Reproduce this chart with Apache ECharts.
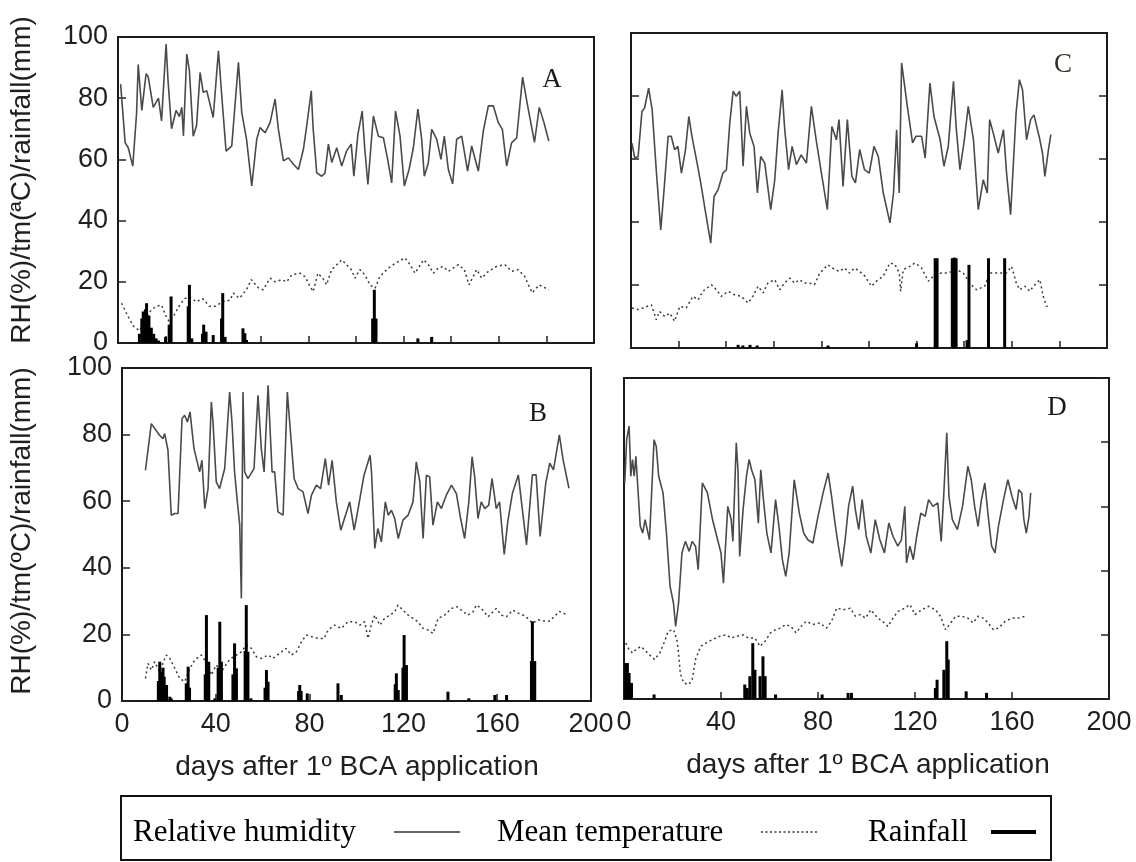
<!DOCTYPE html>
<html>
<head>
<meta charset="utf-8">
<script src="https://cdn.jsdelivr.net/npm/echarts@6/dist/echarts.min.js"></script>
<style>html,body{margin:0;padding:0;background:#fff;}#c{width:1136px;height:862px;}</style>
</head>
<body>
<div id="c"></div>
<script>
// ---------- DATA (day after 1st BCA application, value) ----------
const xTicks = [0, 40, 80, 120, 160, 200];
const yTicks = [0, 20, 40, 60, 80, 100];
const panelLetters = ['A', 'B', 'C', 'D'];

const rhA = [[1.1,84.6],[3,65.5],[4.3,63.8],[6.2,57.8],[7.8,75],[8.5,91],[10,76],[11.8,88],[12.7,87],[14.8,77],[17,80],[18.3,72.6],[20.2,97.7],[21,86],[22.5,70],[24.4,76],[25.8,74],[26.8,77],[27.5,67.7],[28.9,94.4],[30,89],[31.6,67.6],[33,71],[34.5,88.4],[35.8,81.9],[37.3,82.4],[40,73.7],[42.2,95.5],[43.6,80.8],[45.4,62.7],[47.8,64.4],[50.6,91.7],[52,75.3],[54,66.6],[56.2,51.3],[58.3,66.6],[59.7,70.4],[61.8,68.7],[63.9,72],[66,79.7],[67.4,69.8],[69.5,59.5],[71.6,60.5],[73.7,58.4],[75.8,56.7],[77.9,63.3],[79.3,71],[81.2,82.4],[82,70],[83.5,55.6],[85.6,54.5],[87,55.6],[88.4,65],[89.8,59],[91.9,63.8],[94,57.8],[96,62.7],[98,65],[99.1,54.5],[100.8,68.2],[102.6,75.8],[103.7,63.3],[105,51.8],[107.3,74.2],[109.4,67.6],[111.5,67.1],[113.3,60],[115,52.3],[116.6,75.8],[118.5,67.6],[120.3,51.3],[122.3,56.7],[124.1,63.8],[126,76.4],[127.6,66.6],[128.7,54.5],[130.4,58.9],[131.8,69.8],[133.9,66.6],[135.7,60],[137.1,67.6],[138.8,56.7],[140.6,52],[142.3,66.6],[144.4,67.6],[146.9,56.2],[148.6,64.4],[151.4,56.2],[153.5,69.3],[155.6,77.5],[157.7,77.5],[159.8,72],[161.5,69.8],[163.3,57.8],[165.4,65.5],[167.5,67],[170,86.9],[172,78],[175,65.6],[177,77],[179,72],[181,66]];
const tempA = [[1.5,13],[4,9],[6.5,5.5],[9,4],[11,7],[13,10],[16,12],[18.3,12.4],[20,9],[21.5,7],[23.5,9],[26,12.5],[28,14.5],[30,15],[33,13.5],[35.5,14.5],[38.5,12],[41,12],[44,13.5],[47,14],[48.5,16.3],[51,14.6],[54,17.4],[56,20.7],[59,18],[61,17.4],[63.9,21.2],[66,20],[68.8,20.7],[70.9,20],[73,22.3],[76.5,22.8],[78.6,21.7],[80.7,18.5],[82,16.8],[84,22.8],[86,21.2],[87.6,19],[89.8,24],[94,27.2],[96,25.6],[98,24],[99.6,21.2],[101.6,24],[103.7,22.3],[105.9,19],[108,17.9],[110,21.7],[113.6,24.5],[116.4,26],[120.6,27.8],[122.7,25.6],[124.8,22.8],[128.4,27.2],[130.4,25.6],[132.5,22.8],[134.6,24.5],[136.7,25],[138.8,23.4],[143,25.6],[145.5,24],[147.5,19],[150.7,24],[152.8,21.2],[155.6,23.4],[159,25],[162.6,25.6],[165.4,23.4],[168,24],[170.8,21.9],[174,16.4],[177,19],[181,17.4]];
const rainA = [[9,3],[10,8],[10.6,10.3],[11.5,11],[12,13],[13,9],[14,5],[15,3],[16,1.5],[17,0.8],[20,2],[21.5,6],[22.3,15.2],[29.5,12],[30,19],[31,1.5],[35.5,3],[36,6],[37,3.7],[40,2.6],[43.5,8],[44,16.3],[45,2],[52.5,4.8],[53.3,3.2],[54,1],[107,8],[107.7,17.4],[108.4,8],[126,1.5],[131.8,2]];

const rhB = [[10,69.3],[12.5,83.3],[16,79.8],[17.5,78.8],[18.2,80.3],[19.6,75.3],[21,55.8],[22.5,56.3],[23.9,56.3],[25.6,84.8],[26.7,85.8],[27.9,83.8],[29,86.8],[30.7,75.8],[33.1,68.8],[34.1,72.3],[35.3,57.8],[36.7,63.8],[38.1,89.8],[38.8,83.8],[40.2,65.8],[41.6,63.8],[43.8,69.8],[45.9,92.8],[46.9,83.8],[48,68.8],[49.2,59.8],[50.2,52.8],[50.9,30.8],[51.6,92.8],[52.3,68.8],[53.7,66.8],[56.3,69.8],[58,91.8],[59.4,75.8],[60.6,68.8],[62.3,94.8],[63,83.8],[64,68.8],[65.1,68.8],[66.5,56.8],[68.7,55.8],[70.5,92.8],[71.5,83.8],[73.4,66.8],[75.1,63.8],[77.2,62.8],[79.3,56.3],[80.8,61.8],[82.9,64.8],[84.7,63.8],[86.7,72.8],[88.1,64.8],[89.6,72.3],[91.4,59.8],[93.3,51.3],[95.3,55.8],[97.1,59.8],[99,51.3],[100.7,57.8],[103.2,67.8],[105.8,73.8],[106.4,68.8],[107.8,45.8],[109.1,51.8],[110.6,47.8],[112.3,59.8],[113.5,55.8],[114.9,57.3],[116.3,54.8],[117.8,48.8],[119.8,54.3],[122,55.8],[124.1,59.8],[125.5,71.8],[127,65.8],[128.4,48.8],[129.8,67.8],[131.2,67.3],[132.6,52.8],[134.5,59.8],[136.2,57.8],[138.3,61.8],[140.5,64.8],[142.6,62.3],[144.4,54.8],[146.1,48.8],[147.9,59.8],[149.3,73.3],[150.4,67.3],[151.8,54.8],[153.2,59.8],[154.7,57.8],[156.4,58.8],[157.8,66.8],[159.6,57.8],[161,59.8],[163,44],[164.5,53.8],[166.5,62.4],[169,67.9],[172.5,46.9],[175,67.9],[176.6,67.9],[178.3,49.4],[180.7,65.4],[182.4,71.4],[184,69.4],[186.5,79.9],[188.1,72.4],[190.6,63.9]];
const tempB = [[10,6.8],[11.1,11.3],[12.5,9.3],[13.9,11.8],[16,8.8],[18.9,13.8],[20.4,12.8],[22.5,9.8],[24.6,6.8],[26.7,5.8],[29,9.8],[31,12.3],[33.8,13.8],[36.7,10.8],[38.1,7.8],[40.2,10.8],[42.4,8.8],[45.2,11.8],[46.6,12.8],[48.8,13.8],[51,14.8],[53,16.8],[55.2,15.8],[57.3,13.3],[59.4,12.8],[62.3,13.8],[64.4,12.8],[67.2,14.3],[70,15.8],[72.2,13.8],[74.4,14.8],[76.5,17.8],[78.6,19.8],[80.8,19.3],[83.6,18.8],[86.2,18.8],[87.9,21.3],[90.7,22.8],[93.5,21.8],[96.4,23.8],[99.2,23.8],[101.4,22.8],[103.5,23.8],[104.9,18.8],[106.3,22.8],[107.8,25.8],[109.9,22.8],[112,24.8],[114.2,25.8],[116.3,26.8],[117.7,28.8],[119.8,27.3],[122,25.8],[124.1,24.8],[126.2,23.8],[128.4,21.8],[130.5,21.3],[132.6,20.3],[134.8,24.8],[137.6,25.8],[140.5,27.8],[143,28.3],[144.7,27.3],[147.5,25.8],[149.7,26.8],[151.1,28.8],[153.3,27.8],[156.1,25.3],[159.6,27.8],[161.8,25.8],[163.9,25.3],[166.7,27.3],[169,26.4],[172,25.5],[175,23.4],[177.6,24.4],[180,24],[182.4,24],[186.5,26.9],[189.8,25.9]];
const rainB = [[15.5,6],[16.1,11.8],[16.8,8.8],[17.5,10],[18,7.3],[19,4.8],[20.4,1.3],[21,0.8],[27.4,5.3],[28.2,10.3],[28.8,4],[35.5,8],[36,25.8],[37,11.8],[39.6,0.8],[41,10],[41.7,23.8],[42.4,11.8],[47.3,8],[48,17.3],[48.8,9.8],[52.5,15],[53,28.8],[53.7,14.8],[55,0.8],[61,4],[61.6,9.3],[62.3,5.8],[75.3,3],[75.8,4.8],[76.4,3],[79,2.3],[92.1,5.3],[93.5,1.8],[116.5,5],[117,8.3],[117.8,3.3],[119.8,10],[120.3,19.8],[121.3,10.8],[139,2.8],[147.9,0.8],[159,1.8],[164,1.8],[174.6,12],[175,23.9],[176,12]];

const rhC = [[0.4,65],[1.6,60.3],[3,60.8],[4.6,75.1],[5.7,76.2],[7.4,82.5],[8.9,75.6],[10.6,56.6],[12.5,37.5],[13.9,50.3],[15.6,67.2],[16.9,67.2],[18.3,63],[19.7,64],[21.2,55.5],[22.9,63],[24.3,73.5],[25.6,67.2],[27.5,59.8],[29.3,52.4],[31.6,41.8],[33.5,33.3],[34.9,48.1],[36.6,50.3],[38.6,55.5],[40.1,56.6],[41.5,71.4],[42.9,81.5],[44.2,79.9],[45.7,81.5],[47.1,57.7],[48.5,76.7],[49.9,68.2],[51.7,64],[53.1,49.2],[54.5,60.8],[56.2,58.7],[58.7,43.9],[60.4,53.4],[61.8,68.2],[63.5,82],[64.5,70.3],[66.2,56.6],[67.7,64],[69.5,58.2],[71.5,61.3],[73.7,58.7],[75.8,76.7],[77.8,66.1],[80,55.5],[82.5,43.9],[84.4,70.3],[86.3,66.1],[87.4,72.5],[89.1,51.3],[90.9,72.5],[92.8,54.5],[94.3,52.4],[96.1,63],[98.1,56.6],[100.1,55.5],[102.1,64],[103.9,60.8],[106,49.2],[108.8,39.7],[110.3,49.2],[111.6,69.3],[112.7,49.2],[113.7,90.5],[115.9,77.8],[118.3,65.1],[119.7,67.2],[122.1,67.2],[123.6,60.3],[125.6,84.1],[127.3,73.5],[129.9,66.1],[131.5,57.7],[133.3,64],[135.5,84.7],[136.6,70.3],[138.2,56.6],[139.9,65.1],[141.7,76.7],[143.9,66.1],[145.9,43.9],[148,53.4],[149.7,49.2],[150.7,72.5],[152.2,68.2],[154.3,61.9],[156.5,69.3],[157.8,55.5],[159.5,42.3],[161.8,74.6],[163.2,85.2],[164.5,82],[166.2,66.1],[167.9,72.5],[169.3,74],[171.8,66.1],[172.9,61.9],[173.9,54.5],[175.4,63],[176.4,67.7]];
const tempC = [[0.4,12.7],[3,12.2],[5,12.7],[8.6,13.7],[10.6,9],[12,11.6],[14.2,10],[16.3,11.1],[18.3,8.5],[20.5,13.2],[23.2,12.7],[26,16.4],[28.2,15.3],[30.2,18],[33.8,20.1],[35.9,18.5],[37.9,16.4],[40.8,18],[43.5,16.9],[46.3,16.4],[49.2,14.3],[51.2,16.4],[53.4,19.6],[55.5,17.5],[57.5,20.6],[60.4,21.7],[62.5,18.5],[64.5,20.6],[66.7,22.2],[68.8,20.6],[70.8,21.7],[72.9,20.6],[75.1,20.6],[77.1,20.1],[79.3,23.8],[82.7,26.4],[85.6,24.9],[87.7,24.3],[89.7,25.4],[91.8,23.8],[94,25.4],[96,24.3],[98.3,22.8],[101,19.6],[103.1,21.2],[106,22.8],[108.8,27],[110.9,26.5],[112.7,23.8],[113.3,18],[114.4,24.9],[117.1,25.9],[119.3,27],[122.1,25.4],[124.9,21.2],[127.7,23.3],[130.4,23.8],[133.3,23.8],[136.7,24.9],[139.6,23.8],[142.3,20.6],[145.2,18.5],[148.6,19.6],[150.7,23.8],[155,23.8],[157.7,23.8],[159.9,25.9],[161.9,20.6],[163.3,18.5],[165.5,19.6],[167.6,18],[169.1,19.6],[171.8,21.7],[173.2,16.4],[174.6,13.2],[175.9,13.7]];
const rainC = [[45,1],[47,0.8],[50,1],[53,0.8],[82.8,0.8],[120,1.5],[127.8,28.5],[128.6,28.5],[135,28.5],[135.8,28.7],[136.6,28.5],[141.2,2.5],[142,26.4],[150.2,28.5],[157,28.5]];

const rhD = [[0.3,67.3],[1.1,80.8],[2.1,85],[2.8,69.4],[3.5,74.6],[4.2,69.4],[4.9,75.6],[5.6,75.6],[6.7,53.8],[7.7,51.7],[8.7,55.9],[10.5,49.6],[12.4,80.8],[13.3,78.7],[14.3,69.4],[16.1,64.2],[17.5,51.7],[19,35.1],[20.4,29.9],[21.3,22.6],[22.5,29.9],[23.9,45.5],[25.3,49.1],[26.9,46],[28.1,49.1],[29.5,47.6],[30.6,40.3],[32.3,67.3],[34.4,64.2],[36.5,55.9],[38.6,49.6],[40,45.5],[41,36.1],[42.8,60],[44.2,55.9],[44.9,49.1],[46.3,79.8],[47,71.4],[47.7,44.4],[49.1,59],[50.5,69.4],[51.6,74.6],[52.6,71.4],[54,68.3],[55.4,54.8],[56.4,71.4],[57.5,62.1],[58.9,51.7],[60.6,45.5],[62.5,62.1],[63.9,53.8],[65.3,43.4],[66.7,38.2],[68.1,45.5],[70.2,68.3],[72.3,57.9],[74.1,51.7],[75.8,49.6],[77.9,48.6],[80,56.9],[82.1,64.2],[84.2,70.4],[85.6,63.1],[87,54.8],[88.4,47.6],[89.8,41.3],[91.2,49.6],[92.6,60],[94.3,66.3],[95.4,59],[96.8,52.8],[98.2,62.1],[99.9,50.7],[101.8,45.5],[103.6,55.9],[105.5,49.6],[107.4,45.5],[109.2,54.8],[110.9,50.7],[112.9,47.6],[114.4,49.6],[115.8,60],[116.5,42.4],[117.9,47.6],[119.3,43.4],[120.7,50.7],[122.4,57.9],[124.2,56.9],[125.6,62.1],[127.4,60],[129.4,61.1],[130.8,49.1],[131.9,64.2],[133.1,82.9],[134,63.1],[135.4,55.9],[137.5,52.8],[139.6,60],[141.8,72.5],[143.2,68.3],[144.6,60],[146,53.8],[147.4,62.1],[148.8,67.3],[150.2,56.9],[151.6,47.6],[153,45.5],[154.4,53.8],[156.5,62.1],[158.3,68.3],[160,63.1],[161.7,59],[162.8,65.2],[164,64.2],[164.9,55.9],[165.9,51.7],[167,56.9],[167.7,64.2]];
const tempD = [[0.7,17.4],[2.1,15.4],[3.5,14.3],[4.9,15.4],[7,16.4],[9.8,14.3],[12.6,12.3],[14.7,14.3],[16.8,18],[18.2,21.1],[20.4,21.6],[21.8,18.5],[22.5,14.3],[23.2,8.1],[24.6,5],[26.7,4.5],[28.1,6],[29.5,12.3],[31.6,16.4],[33.7,17.4],[36.5,18.5],[39.3,19.5],[42.1,20],[44.2,19],[46.3,19.5],[49.1,20],[51.2,19],[54,19],[56.1,16.4],[58.2,18],[60.4,20.6],[62.5,21.6],[64.6,22.1],[66.7,23.2],[68.8,22.6],[71,20.6],[73,22.6],[75.1,24.2],[77.9,23.2],[80.7,23.7],[83.5,22.1],[85.6,24.2],[87.7,28.3],[90.5,27.8],[93.3,28.3],[95.4,25.8],[97.5,26.3],[99.6,25.2],[101.8,27.8],[104.6,25.2],[106.7,24.2],[108.8,22.6],[110.9,25.2],[113,27.3],[115.8,28.3],[117.9,29.4],[120,26.3],[122.8,27.8],[125.6,28.9],[128.4,27.8],[130.5,25.8],[132.6,21.6],[134.7,23.7],[136.8,25.8],[139,25.8],[141.8,25.2],[143.9,23.7],[146,25.8],[148.1,25.2],[150.2,23.7],[152.3,21.6],[154.4,22.1],[157.2,24.2],[160,25.2],[162.8,25.2],[165.6,25.8]];
const rainD = [[0.7,11.2],[1.4,11.2],[2.1,8.1],[3.1,5],[12.4,1.4],[49.8,4.5],[50.8,3.4],[51.9,7.1],[53.1,17.4],[54,9.1],[56.1,7.1],[57.3,13.3],[58.2,7.1],[62.5,1.4],[81.7,1.4],[92.4,1.9],[93.8,1.9],[128.4,3.4],[129.1,6],[131.9,9.1],[133.1,18],[133.7,12.3],[141.1,2.4],[149.5,1.9]];

// ---------- LAYOUT ----------
const grids = [
  {left:118, top:37,  width:476, height:306},  // A
  {left:122, top:368, width:469, height:333},  // B
  {left:631, top:33,  width:476, height:315},  // C
  {left:624, top:378, width:485, height:321}   // D
];
const letterPos = [[552,80],[538,414],[1063,65],[1057,408]];
const rhSets = [rhA, rhB, rhC, rhD];
const tempSets = [tempA, tempB, tempC, tempD];
const rainSets = [rainA, rainB, rainC, rainD];

const AX_FONT = {fontFamily:'Liberation Sans, Arial, sans-serif', fontSize:27, color:'#1f1f1f'};
const xCfg = [
  {interval:20, labels:false},
  {interval:40, labels:true},
  {interval:20, labels:false},
  {interval:40, labels:true}
];
const yLabels = [true, true, false, false];

const xAxis = grids.map((g, i) => ({
  type:'value', gridIndex:i, min:xTicks[0], max:xTicks[xTicks.length-1], interval:xCfg[i].interval,
  axisLine:{show:false}, splitLine:{show:false},
  axisTick:{show:true, inside:true, length:7, lineStyle:{color:'#222', width:1.5}},
  axisLabel:{show:xCfg[i].labels, margin:10, showMinLabel:true, showMaxLabel:true, ...AX_FONT}
}));
const yAxis = grids.map((g, i) => ({
  type:'value', gridIndex:i, min:yTicks[0], max:yTicks[yTicks.length-1], interval:20,
  axisLine:{show:false}, splitLine:{show:false},
  axisTick:{show: i !== 3, inside:true, length:8, lineStyle:{color:'#222', width:1.5}},
  axisLabel:{show:yLabels[i], margin:10, ...AX_FONT}
}));
// right-side inner ticks for C and D
[2,3].forEach(i => yAxis.push({
  type:'value', gridIndex:i, position:'right', min:0, max:100, interval:20,
  axisLine:{show:false}, splitLine:{show:false}, axisLabel:{show:false},
  axisTick:{show:true, inside:true, length:8, lineStyle:{color:'#222', width:1.5}}
}));

const series = [];
for (let i = 0; i < 4; i++) {
  series.push({
    type:'line', name:'Relative humidity', xAxisIndex:i, yAxisIndex:i, data:rhSets[i],
    showSymbol:false, symbol:'none', silent:true, z:3,
    lineStyle:{color:'#4a4a4a', width:1.6}
  });
  series.push({
    type:'line', name:'Mean temperature', xAxisIndex:i, yAxisIndex:i, data:tempSets[i],
    showSymbol:false, symbol:'none', silent:true, z:2,
    lineStyle:{color:'#3a3a3a', width:1.5, type:[2,3]}
  });
  series.push({
    type:'bar', name:'Rainfall', xAxisIndex:i, yAxisIndex:i, data:rainSets[i],
    barWidth:3, silent:true, z:4, itemStyle:{color:'#000'}
  });
}

const TITLE_FONT = '28px "Liberation Sans", Arial, sans-serif';
const SERIF = '"Liberation Serif", "Times New Roman", serif';
const graphic = [
  {type:'text', x:22, y:180, rotation:Math.PI/2, style:{text:'RH(%)/tm(ªC)/rainfall(mm)', font:TITLE_FONT, fill:'#1f1f1f', textAlign:'center', textVerticalAlign:'middle'}},
  {type:'text', x:22, y:531, rotation:Math.PI/2, style:{text:'RH(%)/tm(ºC)/rainfall(mm)', font:TITLE_FONT, fill:'#1f1f1f', textAlign:'center', textVerticalAlign:'middle'}},
  {type:'text', x:357, y:767, style:{text:'days after 1º BCA application', font:TITLE_FONT, fill:'#1f1f1f', textAlign:'center', textVerticalAlign:'middle'}},
  {type:'text', x:868, y:765, style:{text:'days after 1º BCA application', font:TITLE_FONT, fill:'#1f1f1f', textAlign:'center', textVerticalAlign:'middle'}},
  // legend box
  {type:'rect', shape:{x:121, y:796, width:930, height:64}, style:{fill:'#fff', stroke:'#111', lineWidth:2}},
  {type:'text', x:133, y:833, style:{text:'Relative humidity', font:'31px ' + SERIF, fill:'#000', textAlign:'left', textVerticalAlign:'middle'}},
  {type:'line', shape:{x1:394, y1:832, x2:460, y2:832}, style:{stroke:'#666', lineWidth:1.8}},
  {type:'text', x:497, y:833, style:{text:'Mean temperature', font:'31px ' + SERIF, fill:'#000', textAlign:'left', textVerticalAlign:'middle'}},
  {type:'line', shape:{x1:761, y1:832, x2:819, y2:832}, style:{stroke:'#666', lineWidth:1.8, lineDash:[2,2.5]}},
  {type:'text', x:868, y:833, style:{text:'Rainfall', font:'31px ' + SERIF, fill:'#000', textAlign:'left', textVerticalAlign:'middle'}},
  {type:'line', shape:{x1:991, y1:832, x2:1036, y2:832}, style:{stroke:'#000', lineWidth:4}}
];
panelLetters.forEach((L, i) => graphic.push({
  type:'text', x:letterPos[i][0], y:letterPos[i][1],
  style:{text:L, font:'27px ' + SERIF, fill: L === 'C' ? '#3a3020' : '#1a1a1a', textAlign:'center', textVerticalAlign:'middle'}
}));

const chart = echarts.init(document.getElementById('c'), null, {renderer:'canvas'});
chart.setOption({
  animation:false,
  backgroundColor:'#fff',
  grid: grids.map(g => ({...g, show:true, borderColor:'#1a1a1a', borderWidth:2, backgroundColor:'transparent'})),
  xAxis, yAxis, series, graphic
});
</script>
</body>
</html>
